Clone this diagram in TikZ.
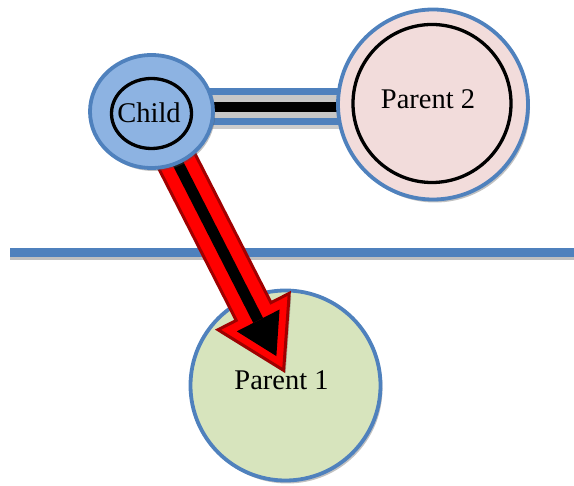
\documentclass[tikz,border=0pt]{standalone}
\usepackage{fontspec}
\setmainfont{Liberation Serif}
\usetikzlibrary{shapes.geometric,shadows,calc}
\pgfdeclarelayer{back}
\pgfdeclarelayer{mid}
\pgfsetlayers{back,mid,main}
\definecolor{bl}{HTML}{4F81BD}
\definecolor{childfill}{HTML}{8DB3E2}
\definecolor{ptwofill}{HTML}{F2DCDB}
\definecolor{ponefill}{HTML}{D7E4BD}
\definecolor{darkred}{HTML}{A00000}
\begin{document}
\begin{tikzpicture}[x=1pt,y=-1pt,
  font=\fontsize{28.5}{30}\selectfont,
  shad/.style={drop shadow={shadow xshift=2pt,shadow yshift=-3pt,opacity=.35,fill=black!70}},
  ring/.style={circle, draw=bl, line width=3.8pt, inner sep=0pt, shad},
  innerring/.style={circle, draw=black, line width=3.3pt, inner sep=0pt},
  lbl/.style={inner sep=0pt}
]
\useasboundingbox (0,0) rectangle (574,486);

% main nodes
\node[ring, fill=ptwofill, minimum size=190pt] (p2) at (433,104.5) {};
\node[innerring, minimum size=158pt] (p2in) at (432,103.5) {};
\node[lbl] (p2text) at ([xshift=-5pt,yshift=5pt]p2.center) {Parent 2};

\node[ellipse, draw=bl, fill=childfill, line width=3.8pt, minimum width=123pt, minimum height=113pt, shad] (child) at (151.5,111.5) {};
\node[ellipse, draw=black, fill=childfill, line width=3.3pt, minimum width=80pt, minimum height=70pt, inner sep=0pt] (childin) at (151.5,113.5) {};
\node[lbl] (childtext) at ([xshift=-2.5pt,yshift=1pt]childin.center) {Child};

\begin{pgfonlayer}{back}
  \coordinate (hl) at (10,252.5);
  \coordinate (hr) at (574,252.5);
  \draw[black, opacity=.25, line width=6pt] ([yshift=-5pt]hl) -- ([yshift=-5pt]hr);
  \draw[bl, line width=9pt] (hl) -- (hr);
  \node[ring, fill=ponefill, minimum size=190pt] (p1) at (285.5,385.5) {};
  \node[lbl] (p1text) at ([xshift=-4pt,yshift=5pt]p1.center) {Parent 1};
\end{pgfonlayer}

\begin{pgfonlayer}{mid}
  % link child -- parent 2
  \draw[black, opacity=.2, line width=37pt] ([yshift=0.5pt]child.center) -- ([yshift=-6.5pt]p2.center);
  \draw[line width=7pt, draw=bl, double=black!22, double distance=23pt] ([yshift=4.5pt]child.center) -- ([yshift=-2.5pt]p2.center);
  \draw[black, line width=10pt] ([yshift=4.5pt]child.center) -- ([yshift=-2.5pt]p2.center);
  % arrow child -> parent 1
  \coordinate (S) at (child.center);
  \coordinate (T) at ([xshift=-0.5pt,yshift=12.5pt]p1.center);
  \coordinate (Tp) at ($(T)!3pt!(S)$);
  \coordinate (B) at ($(T)!69pt!(S)$);
  \filldraw[fill=red, draw=darkred, line width=3pt, line join=miter, shad]
    ($(S)!19.5pt!90:(T)$) -- ($(B)!19.5pt!90:(T)$) -- ($(B)!40pt!90:(T)$) -- (Tp)
    -- ($(B)!40pt!-90:(T)$) -- ($(B)!19.5pt!-90:(T)$) -- ($(S)!19.5pt!-90:(T)$) -- cycle;
  \coordinate (Tb) at ($(T)!19pt!(S)$);
  \coordinate (Bb) at ($(T)!59pt!(S)$);
  \draw[black, line width=11pt] (S) -- (Bb);
  \fill[black] ($(Bb)!24pt!90:(T)$) -- (Tb) -- ($(Bb)!24pt!-90:(T)$) -- cycle;
\end{pgfonlayer}
\end{tikzpicture}
\end{document}
